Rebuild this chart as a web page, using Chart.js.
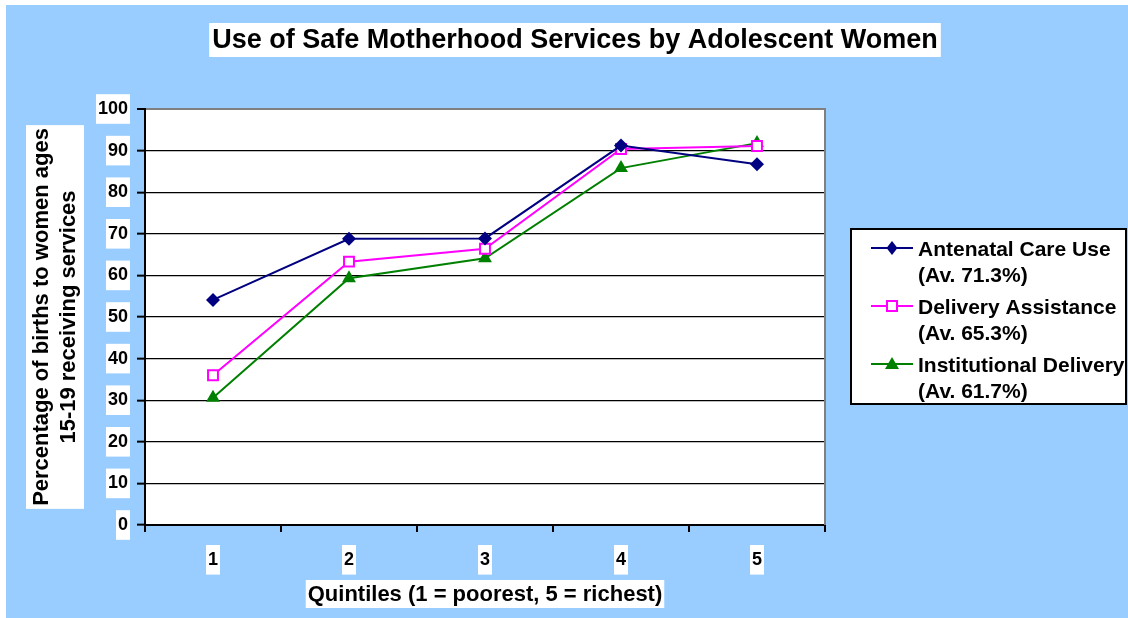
<!DOCTYPE html>
<html>
<head>
<meta charset="utf-8">
<script src="https://cdn.jsdelivr.net/npm/chart.js@4/dist/chart.umd.min.js"></script>
<style>
  html, body { margin: 0; padding: 0; background: #ffffff; }
  #wrap { width: 1128px; height: 618px; }
</style>
</head>
<body>
<div id="wrap"><canvas id="c" width="1128" height="618"></canvas></div>
<script>
// ---- data ----
const categories = ['1', '2', '3', '4', '5'];
const antenatal = [54.1, 68.8, 68.9, 91.2, 86.7];
const delivery = [36.0, 63.3, 66.4, 90.4, 91.1];
const institutional = [30.6, 59.3, 64.1, 85.8, 91.8];
const seriesNames = [
  ['Antenatal Care Use', '(Av. 71.3%)'],
  ['Delivery Assistance', '(Av. 65.3%)'],
  ['Institutional Delivery', '(Av. 61.7%)']
];
const titleText = 'Use of Safe Motherhood Services by Adolescent Women';
const yTitleLines = ['Percentage of births to women ages', '15-19 receiving services'];
const xTitleText = 'Quintiles (1 = poorest, 5 = richest)';
const yMin = 0, yMax = 100, yStep = 10;

const FONT = "'Liberation Sans', Arial, sans-serif";
const colors = ['#000080', '#FF00FF', '#008000'];

function drawMarker(ctx, kind, x, y, color) {
  ctx.save();
  if (kind === 0) {
    ctx.fillStyle = color;
    ctx.beginPath();
    ctx.moveTo(x, y - 7); ctx.lineTo(x + 5.5, y); ctx.lineTo(x, y + 7); ctx.lineTo(x - 5.5, y);
    ctx.closePath(); ctx.fill();
  } else if (kind === 1) {
    ctx.fillStyle = '#fff'; ctx.strokeStyle = color; ctx.lineWidth = 2;
    ctx.fillRect(x - 5, y - 5, 10, 10);
    ctx.strokeRect(x - 5, y - 5, 10, 10);
  } else {
    ctx.fillStyle = color;
    ctx.beginPath();
    ctx.moveTo(x, y - 7); ctx.lineTo(x + 7, y + 5); ctx.lineTo(x - 7, y + 5);
    ctx.closePath(); ctx.fill();
  }
  ctx.restore();
}

const decor = {
  id: 'decor',
  beforeDraw(chart) {
    const ctx = chart.ctx;
    ctx.save();
    ctx.fillStyle = '#ffffff';
    ctx.fillRect(0, 0, chart.width, chart.height);
    ctx.fillStyle = '#99CCFF';
    ctx.fillRect(6, 5, chart.width - 6, chart.height - 5);
    const a = chart.chartArea;
    ctx.fillStyle = '#ffffff';
    ctx.fillRect(a.left, a.top, a.right - a.left, a.bottom - a.top);
    ctx.restore();
  },
  afterDraw(chart) {
    const ctx = chart.ctx;
    const a = chart.chartArea;
    ctx.save();
    // right border of plot
    ctx.strokeStyle = '#808080'; ctx.lineWidth = 2;
    ctx.beginPath(); ctx.moveTo(a.right, a.top - 1); ctx.lineTo(a.right, a.bottom); ctx.stroke();

    // title
    ctx.font = 'bold 27px ' + FONT;
    ctx.textAlign = 'center'; ctx.textBaseline = 'middle';
    let w = ctx.measureText(titleText).width;
    const tx = 575, ty = 41;
    ctx.fillStyle = '#fff';
    ctx.fillRect(tx - w / 2 - 3, 23, w + 6, 34);
    ctx.fillStyle = '#000';
    ctx.fillText(titleText, tx, ty);

    // x title
    ctx.font = 'bold 22px ' + FONT;
    w = ctx.measureText(xTitleText).width;
    const xx = (a.left + a.right) / 2, xy = 595;
    ctx.fillStyle = '#fff';
    ctx.fillRect(xx - w / 2 - 2, 580, w + 4, 28);
    ctx.fillStyle = '#000';
    ctx.fillText(xTitleText, xx, xy);

    // y title
    ctx.font = 'bold 22px ' + FONT;
    const w1 = Math.max(...yTitleLines.map(t => ctx.measureText(t).width));
    const cy = (a.top + a.bottom) / 2;
    ctx.fillStyle = '#fff';
    ctx.fillRect(26, cy - w1 / 2 - 3, 58, w1 + 6);
    ctx.translate(0, cy);
    ctx.rotate(-Math.PI / 2);
    ctx.fillStyle = '#000';
    ctx.fillText(yTitleLines[0], 0, 42);
    ctx.fillText(yTitleLines[1], 0, 69);
    ctx.restore();

    // legend
    ctx.save();
    ctx.fillStyle = '#fff';
    ctx.fillRect(851, 229, 275, 175);
    ctx.strokeStyle = '#000'; ctx.lineWidth = 2;
    ctx.strokeRect(851, 229, 275, 175);
    ctx.font = 'bold 21px ' + FONT;
    ctx.textAlign = 'left'; ctx.textBaseline = 'middle';
    for (let i = 0; i < 3; i++) {
      const ly = 248 + i * 58;
      ctx.strokeStyle = colors[i]; ctx.lineWidth = 2;
      ctx.beginPath(); ctx.moveTo(871, ly); ctx.lineTo(913, ly); ctx.stroke();
      drawMarker(ctx, i, 892, ly, colors[i]);
      ctx.fillStyle = '#000';
      ctx.fillText(seriesNames[i][0], 918, ly + 2);
      ctx.fillText(seriesNames[i][1], 918, ly + 28);
    }
    ctx.restore();
  }
};

const tickFont = { family: FONT, size: 18, weight: 'bold' };

new Chart(document.getElementById('c'), {
  type: 'line',
  data: {
    labels: categories,
    datasets: [
      { label: seriesNames[0].join(' '), data: antenatal, borderColor: colors[0], backgroundColor: colors[0],
        borderWidth: 2, pointStyle: 'rectRot', pointRadius: 7, pointBorderWidth: 0, tension: 0 },
      { label: seriesNames[1].join(' '), data: delivery, borderColor: colors[1], backgroundColor: '#ffffff',
        borderWidth: 2, pointStyle: 'rect', pointRadius: 7, pointBorderWidth: 2, tension: 0 },
      { label: seriesNames[2].join(' '), data: institutional, borderColor: colors[2], backgroundColor: colors[2],
        borderWidth: 2, pointStyle: 'triangle', pointRadius: 8, pointBorderWidth: 0, tension: 0 }
    ]
  },
  options: {
    responsive: false,
    animation: false,
    layout: { padding: { left: 0, top: 109, right: 303, bottom: 0 } },
    plugins: { legend: { display: false }, title: { display: false }, tooltip: { enabled: false } },
    scales: {
      x: {
        type: 'category',
        offset: true,
        grid: { offset: true, drawOnChartArea: false, drawTicks: true, tickLength: 7, color: '#000', lineWidth: 2 },
        border: { display: true, color: '#000', width: 2 },
        ticks: { font: tickFont, color: '#000', padding: 17, maxRotation: 0,
          showLabelBackdrop: true, backdropColor: '#fff', backdropPadding: { x: 2, y: 4 } },
        afterFit(s) { s.height = 93; }
      },
      y: {
        min: yMin, max: yMax,
        grid: {
          color: c => (c.tick && c.tick.value === yMax) ? '#808080' : '#000',
          lineWidth: c => (c.tick && c.tick.value === yMax) ? 2 : 1.3,
          tickColor: '#000', tickWidth: 2, tickLength: 8
        },
        border: { display: true, color: '#000', width: 2 },
        ticks: { stepSize: yStep, font: tickFont, color: '#000', padding: 9,
          showLabelBackdrop: true, backdropColor: '#fff', backdropPadding: { x: 2, y: 4 } },
        afterFit(s) { s.width = 145; }
      }
    }
  },
  plugins: [decor]
});
</script>
</body>
</html>
